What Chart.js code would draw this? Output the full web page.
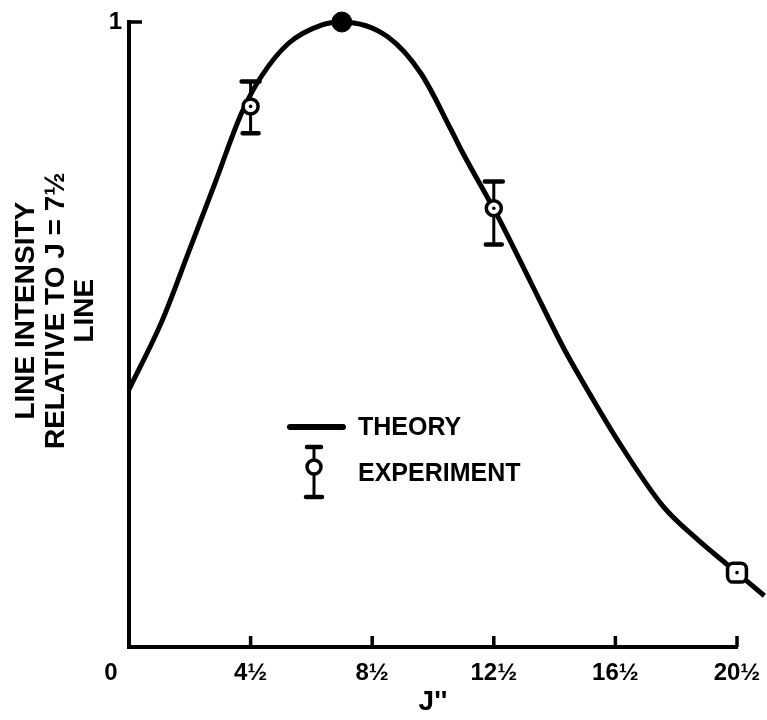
<!DOCTYPE html>
<html><head><meta charset="utf-8">
<script src="https://cdn.jsdelivr.net/npm/chart.js@4"></script>
<style>html,body{margin:0;padding:0;background:#fff}</style>
</head><body>
<canvas id="c" width="767" height="720"></canvas>
<script>
// Theory curve (J'', relative intensity)
const theoryJ = [0.5, 1.58, 2.47, 3.32, 4.2, 4.84, 5.75, 6.83, 7.5, 9.02, 10.1, 11.09, 11.42, 12.63, 13.71, 14.8, 15.68, 16.57, 18.07, 19.18, 20.3, 21.4];
const theoryI = [0.412, 0.521, 0.633, 0.741, 0.854, 0.912, 0.966, 0.995, 1.0, 0.976, 0.918, 0.828, 0.796, 0.689, 0.584, 0.478, 0.403, 0.331, 0.225, 0.173, 0.127, 0.082];
// Reference line J = 7½ (normalised to 1)
const refJ = [7.5];
const refI = [1.0];
// Experiment points with error bars
const expJ = [4.5, 12.5, 20.5];
const expI = [0.865, 0.702, 0.119];
const expLow = [0.822, 0.644, null];
const expHigh = [0.905, 0.745, null];
const expStyle = ['circle', 'circle', 'rectRounded'];
// Ticks
const xTickValues = [0.5, 4.5, 8.5, 12.5, 16.5, 20.5];
const xTickLabels = ['0\u2002\u2002\u2002', '4½', '8½', '12½', '16½', '20½'];
const yTickValues = [1];
const yTickLabels = ['1'];
const yTitleLines = ['LINE INTENSITY', 'RELATIVE TO J = 7½', 'LINE'];
const xTitle = "J''";
const legendLabels = ['THEORY', 'EXPERIMENT'];

const FONT = '"Liberation Sans", Arial, sans-serif';
const pts = (xs, ys) => xs.map((x, i) => ({x: x, y: ys[i]}));

const decor = {
  id: 'decor',
  beforeDatasetsDraw(chart) {
    const {ctx, scales: {x, y}} = chart;
    ctx.save();
    ctx.strokeStyle = '#000';
    expJ.forEach((j, i) => {
      if (expLow[i] == null) return;
      const px = x.getPixelForValue(j);
      const yl = y.getPixelForValue(expLow[i]);
      const yh = y.getPixelForValue(expHigh[i]);
      ctx.lineWidth = 3; ctx.lineCap = 'butt';
      ctx.beginPath(); ctx.moveTo(px, yl); ctx.lineTo(px, yh); ctx.stroke();
      ctx.lineWidth = 4.5; ctx.lineCap = 'round';
      ctx.beginPath();
      ctx.moveTo(px - 8, yl); ctx.lineTo(px + 8, yl);
      ctx.moveTo(px - 9, yh); ctx.lineTo(px + 9, yh);
      ctx.stroke();
    });
    ctx.restore();
  },
  afterDraw(chart) {
    const {ctx, chartArea: ca, scales: {x, y}} = chart;
    ctx.save();
    ctx.strokeStyle = '#000'; ctx.fillStyle = '#000';
    ctx.lineWidth = 3.5; ctx.lineCap = 'butt';
    xTickValues.forEach(v => {
      if (v === x.min) return;
      const px = x.getPixelForValue(v);
      ctx.beginPath(); ctx.moveTo(px, ca.bottom); ctx.lineTo(px, ca.bottom - 11); ctx.stroke();
    });
    yTickValues.forEach(v => {
      const py = y.getPixelForValue(v);
      ctx.beginPath(); ctx.moveTo(ca.left, py); ctx.lineTo(ca.left + 13, py); ctx.stroke();
    });
    // legend
    const lx = ca.left + 161, ly = ca.top + 405;
    ctx.lineWidth = 6; ctx.lineCap = 'round';
    ctx.beginPath(); ctx.moveTo(lx, ly); ctx.lineTo(lx + 53, ly); ctx.stroke();
    ctx.font = 'bold 25px ' + FONT;
    ctx.textBaseline = 'middle'; ctx.textAlign = 'left';
    ctx.fillText(legendLabels[0], lx + 68, ly + 1);
    const cx = lx + 24, cy = ly + 40;
    ctx.lineWidth = 3; ctx.lineCap = 'butt';
    ctx.beginPath(); ctx.moveTo(cx, cy - 20); ctx.lineTo(cx, cy + 30); ctx.stroke();
    ctx.lineWidth = 4.5; ctx.lineCap = 'round';
    ctx.beginPath(); ctx.moveTo(cx - 7, cy - 20); ctx.lineTo(cx + 7, cy - 20);
    ctx.moveTo(cx - 8, cy + 30); ctx.lineTo(cx + 8, cy + 30); ctx.stroke();
    ctx.fillStyle = '#fff'; ctx.lineWidth = 3.5;
    ctx.beginPath(); ctx.arc(cx, cy, 7, 0, Math.PI * 2); ctx.fill(); ctx.stroke();
    ctx.fillStyle = '#000';
    ctx.fillText(legendLabels[1], lx + 68, ly + 47);
    ctx.restore();
  }
};

new Chart(document.getElementById('c'), {
  type: 'line',
  data: {
    datasets: [
      {label: 'Theory', data: pts(theoryJ, theoryI), borderColor: '#000', borderWidth: 5,
       pointRadius: 0, cubicInterpolationMode: 'monotone', clip: false, order: 4, fill: false},
      {label: 'J = 7½', data: pts(refJ, refI), showLine: false, pointRadius: 10,
       pointBackgroundColor: '#000', pointBorderColor: '#000', pointBorderWidth: 1, order: 3, clip: false},
      {label: 'Experiment', data: pts(expJ, expI), showLine: false, pointRadius: [7.5, 7.5, 11],
       pointStyle: expStyle, pointBackgroundColor: '#fff', pointBorderColor: '#000', pointBorderWidth: 3.5, order: 2, clip: false},
      {label: 'Experiment centre', data: pts(expJ, expI), showLine: false, pointRadius: 1.8,
       pointBackgroundColor: '#000', pointBorderColor: '#000', pointBorderWidth: 0, order: 1, clip: false}
    ]
  },
  options: {
    responsive: false,
    animation: false,
    devicePixelRatio: 1,
    layout: {padding: {left: 0, right: 30, top: 22, bottom: 0}},
    plugins: {legend: {display: false}, tooltip: {enabled: false}},
    scales: {
      x: {
        type: 'linear', min: 0.5, max: 20.5,
        afterBuildTicks: s => { s.ticks = xTickValues.map(v => ({value: v})); },
        afterFit: s => { s.height = 73; s.paddingLeft = 0; s.paddingRight = 0; },
        ticks: {
          callback: (v, i) => xTickLabels[i],
          font: {family: FONT, size: 24, weight: 'bold'}, color: '#000', padding: 12,
          maxRotation: 0, autoSkip: false
        },
        grid: {display: false, drawTicks: false},
        border: {display: true, color: '#000', width: 4},
        title: {display: true, text: xTitle, color: '#000',
          font: {family: FONT, size: 28, weight: 'bold', lineHeight: 1.2}, padding: {top: 0, bottom: 1}}
      },
      y: {
        type: 'linear', min: 0, max: 1,
        afterBuildTicks: s => { s.ticks = yTickValues.map(v => ({value: v})); },
        afterFit: s => { s.width = 129; },
        ticks: {
          callback: (v, i) => yTickLabels[i],
          font: {family: FONT, size: 24, weight: 'bold'}, color: '#000', padding: 7
        },
        grid: {display: false, drawTicks: false},
        border: {display: true, color: '#000', width: 4},
        title: {display: true, color: '#000',
          text: yTitleLines.map(s => '\u2002\u2002\u2002\u2009' + s),
          font: {family: FONT, size: 28, weight: 'bold', lineHeight: 1.05}, padding: {top: 12, bottom: 0}}
      }
    }
  },
  plugins: [decor]
});
</script>
</body></html>
